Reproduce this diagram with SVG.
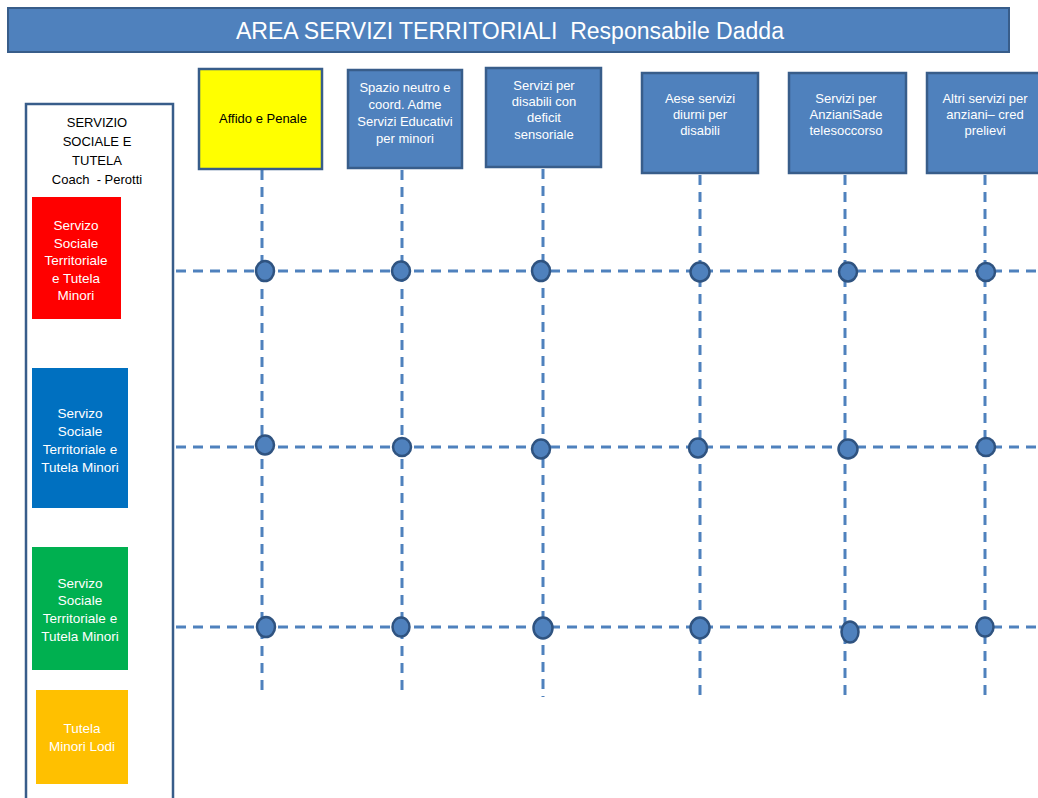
<svg xmlns="http://www.w3.org/2000/svg" width="1038" height="798" viewBox="0 0 1038 798">
<style>
.t{font-family:"Liberation Sans",Arial,sans-serif;text-anchor:middle;dominant-baseline:central;white-space:pre}
.w{fill:#fff;font-size:13px}
.s{fill:#fff;font-size:13.5px}
.k{fill:#000;font-size:13px}
.top{fill:#4F81BD;stroke:#385D8A;stroke-width:2.5}
.dash{stroke:#4F81BD;stroke-width:3;stroke-dasharray:10 7;fill:none}
.dot{fill:#4F81BD;stroke:#2F5380;stroke-width:2.5}
</style>
<rect width="1038" height="798" fill="#fff"/>
<g id="title">
<rect x="8" y="8" width="1001" height="44" fill="#4F81BD" stroke="#385D8A" stroke-width="2"/>
<text class="t" x="510" y="31" fill="#fff" font-size="23" textLength="548" lengthAdjust="spacingAndGlyphs" xml:space="preserve">AREA SERVIZI TERRITORIALI  Responsabile Dadda</text>
</g>
<g id="connectors">
<line class="dash" x1="262" y1="170" x2="262" y2="693"/>
<line class="dash" x1="402" y1="170" x2="402" y2="697"/>
<line class="dash" x1="543" y1="169" x2="543" y2="697"/>
<line class="dash" x1="700" y1="175" x2="700" y2="697"/>
<line class="dash" x1="845" y1="175" x2="845" y2="697"/>
<line class="dash" x1="985" y1="175" x2="985" y2="697"/>
<line class="dash" x1="176" y1="271" x2="1038" y2="271"/>
<line class="dash" x1="176" y1="447" x2="1038" y2="447"/>
<line class="dash" x1="176" y1="627" x2="1038" y2="627"/>
</g>
<g id="left-panel">
<rect x="26" y="104" width="147" height="700" fill="#fff" stroke="#385D8A" stroke-width="2.5"/>
<text class="t k" xml:space="preserve"><tspan x="97" y="122">SERVIZIO</tspan><tspan x="97" y="141">SOCIALE E</tspan><tspan x="97" y="160">TUTELA</tspan><tspan x="97" y="179">Coach  - Perotti</tspan></text>
</g>
<g id="node-red">
<rect x="32" y="197" width="89" height="122" fill="#FF0000"/>
<text class="t s"><tspan x="76" y="225">Servizo</tspan><tspan x="76" y="243">Sociale</tspan><tspan x="76" y="260">Territoriale</tspan><tspan x="76" y="278">e Tutela</tspan><tspan x="76" y="295">Minori</tspan></text>
</g>
<g id="node-blue">
<rect x="32" y="368" width="96" height="140" fill="#0070C0"/>
<text class="t s"><tspan x="80" y="413">Servizo</tspan><tspan x="80" y="431">Sociale</tspan><tspan x="80" y="449">Territoriale e</tspan><tspan x="80" y="467">Tutela Minori</tspan></text>
</g>
<g id="node-green">
<rect x="32" y="547" width="96" height="123" fill="#00B050"/>
<text class="t s"><tspan x="80" y="583">Servizo</tspan><tspan x="80" y="600">Sociale</tspan><tspan x="80" y="618">Territoriale e</tspan><tspan x="80" y="636">Tutela Minori</tspan></text>
</g>
<g id="node-orange">
<rect x="36" y="690" width="92" height="94" fill="#FFC000"/>
<text class="t s"><tspan x="82" y="728">Tutela</tspan><tspan x="82" y="746">Minori Lodi</tspan></text>
</g>
<g id="node-affido">
<rect x="199" y="69" width="123" height="100" fill="#FFFF00" stroke="#385D8A" stroke-width="2.5"/>
<text class="t k" x="263" y="118">Affido e Penale</text>
</g>
<g id="node-spazio">
<rect class="top" x="348" y="70" width="114" height="98"/>
<text class="t w"><tspan x="405" y="87">Spazio neutro e</tspan><tspan x="405" y="104">coord. Adme</tspan><tspan x="405" y="121">Servizi Educativi</tspan><tspan x="405" y="138">per minori</tspan></text>
</g>
<g id="node-disabili-sens">
<rect class="top" x="486" y="68" width="115" height="99"/>
<text class="t w"><tspan x="544" y="85">Servizi per</tspan><tspan x="544" y="101">disabili con</tspan><tspan x="544" y="117">deficit</tspan><tspan x="544" y="134">sensoriale</tspan></text>
</g>
<g id="node-aese">
<rect class="top" x="642" y="73" width="116" height="100"/>
<text class="t w"><tspan x="700" y="98">Aese servizi</tspan><tspan x="700" y="114">diurni per</tspan><tspan x="700" y="130">disabili</tspan></text>
</g>
<g id="node-anziani">
<rect class="top" x="789" y="73" width="117" height="100"/>
<text class="t w"><tspan x="846" y="98">Servizi per</tspan><tspan x="846" y="114">AnzianiSade</tspan><tspan x="846" y="130">telesoccorso</tspan></text>
</g>
<g id="node-altri">
<rect class="top" x="927" y="73" width="116" height="100"/>
<text class="t w"><tspan x="985" y="98">Altri servizi per</tspan><tspan x="985" y="114">anziani– cred</tspan><tspan x="985" y="130">prelievi</tspan></text>
</g>
<g id="junctions">
<ellipse class="dot" cx="265" cy="271" rx="9" ry="10"/>
<ellipse class="dot" cx="401" cy="271" rx="9" ry="9.5"/>
<ellipse class="dot" cx="541" cy="271" rx="9" ry="10"/>
<ellipse class="dot" cx="700" cy="272" rx="9.5" ry="9.5"/>
<ellipse class="dot" cx="848" cy="272" rx="9" ry="9.5"/>
<ellipse class="dot" cx="986" cy="272" rx="9" ry="9"/>
<ellipse class="dot" cx="265" cy="445" rx="9" ry="9.5"/>
<ellipse class="dot" cx="402" cy="447" rx="9" ry="9"/>
<ellipse class="dot" cx="541" cy="449" rx="9" ry="9.5"/>
<ellipse class="dot" cx="698" cy="448" rx="9" ry="9.5"/>
<ellipse class="dot" cx="848" cy="449" rx="9.5" ry="9.5"/>
<ellipse class="dot" cx="986" cy="447" rx="9" ry="9"/>
<ellipse class="dot" cx="266" cy="627" rx="9" ry="10"/>
<ellipse class="dot" cx="401" cy="627" rx="8.5" ry="9.5"/>
<ellipse class="dot" cx="543" cy="628" rx="9.5" ry="10.5"/>
<ellipse class="dot" cx="700" cy="628" rx="9.5" ry="10.5"/>
<ellipse class="dot" cx="850" cy="632" rx="8.5" ry="10.5"/>
<ellipse class="dot" cx="985" cy="627" rx="8.5" ry="9.5"/>
</g>
</svg>
